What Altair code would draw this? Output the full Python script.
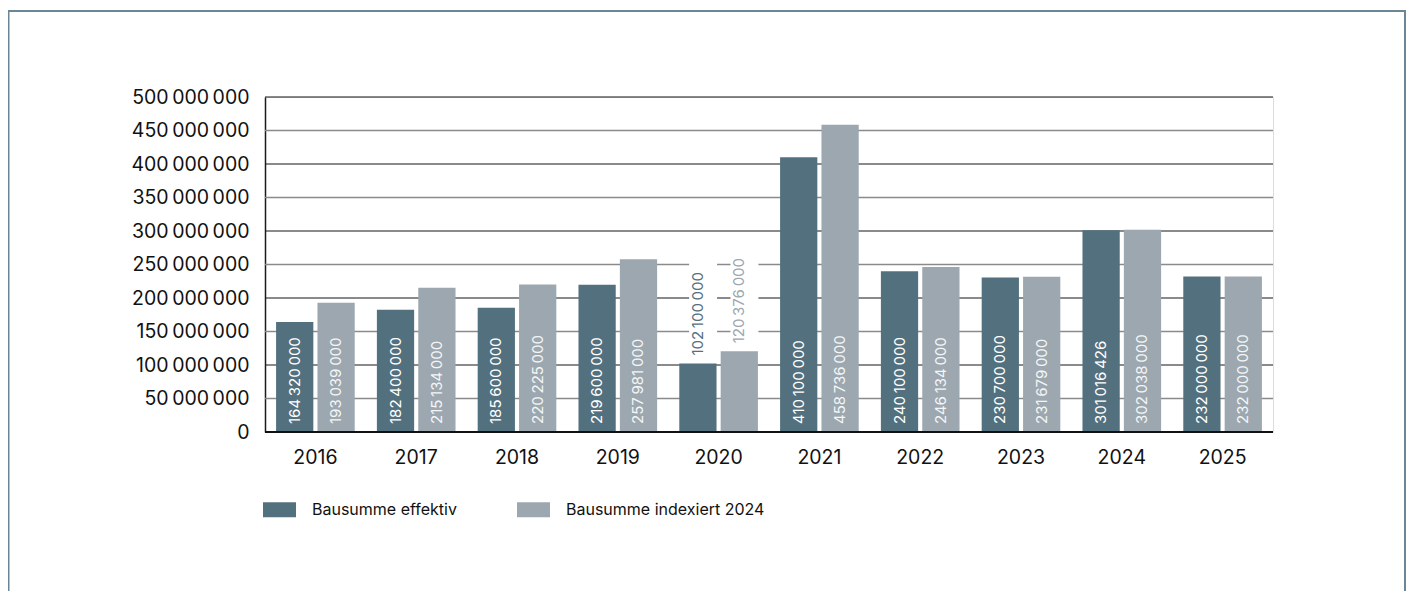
import altair as alt
import pandas as pd

years = ["2016", "2017", "2018", "2019", "2020", "2021", "2022", "2023", "2024", "2025"]
effektiv = [164320000, 182400000, 185600000, 219600000, 102100000,
            410100000, 240100000, 230700000, 301016426, 232000000]
indexiert = [193039000, 215134000, 220225000, 257981000, 120376000,
             458736000, 246134000, 231679000, 302038000, 232000000]
series = ["Bausumme effektiv", "Bausumme indexiert 2024"]
bar_colors = ["#53707e", "#9ca7af"]
inside_label_colors = ["#ffffff", "#f3f5f6"]
major_grid = [0, 100000000, 200000000, 300000000, 400000000, 500000000]
minor_grid = [50000000, 150000000, 250000000, 350000000, 450000000]
axis_values = sorted(major_grid + minor_grid)

THIN = "\u2009"
rows = []
for i, yr in enumerate(years):
    for s, vals in zip(series, [effektiv, indexiert]):
        v = vals[i]
        rows.append({
            "year": yr, "series": s, "value": v,
            "label": f"{v:,}".replace(",", THIN),
            "inside": "yes" if v >= 130000000 else "no",
        })
df = pd.DataFrame(rows)

FONT = "Inter"
yscale = alt.Scale(domain=[0, 500000000], nice=False)
xscale = alt.Scale(paddingInner=0.22, paddingOuter=0.11)
xoscale = alt.Scale(paddingInner=0.1)
yaxis = alt.Axis(title=None, values=axis_values, tickCount=11, grid=False, ticks=False,
                 domain=True, domainColor="#1a1a1a", domainWidth=1.5,
                 labelOverlap=False,
                 labelPadding=16, labelFontSize=19.5, labelFont=FONT,
                 labelColor="#111111",
                 labelExpr="replace(format(datum.value, ','), /,/g, '\u2009')")


def Y(field):
    return alt.Y(field, scale=yscale, axis=yaxis)


X = alt.X("year:N", scale=xscale,
          axis=alt.Axis(title=None, labelAngle=0, ticks=False, domain=False,
                        labelPadding=16, labelFontSize=19.5, labelFont=FONT,
                        labelColor="#111111"))
XO = alt.XOffset("series:N", scale=xoscale)

border = alt.Chart(pd.DataFrame({"a": [0]})).mark_rect(
    fill="white", fillOpacity=0, stroke="#6d8696", strokeWidth=2
).encode(x=alt.value(-256.5), x2=alt.value(1140), y=alt.value(-86), y2=alt.value(560))

major = alt.Chart(pd.DataFrame({"v": major_grid})).mark_rule(
    color="#161616", strokeWidth=1.2
).encode(y=Y("v:Q"))
minor = alt.Chart(pd.DataFrame({"v": minor_grid})).mark_rule(
    color="#8a8a8a", strokeWidth=1.3
).encode(y=Y("v:Q"))

base = alt.Chart(df)

white_boxes = base.transform_filter("datum.inside == 'no'").transform_calculate(
    top="datum.value + 155000000"
).mark_bar(color="white", width=alt.RelativeBandSize(0.75)).encode(
    x=X, xOffset=XO, y=Y("value:Q"), y2="top:Q"
)

bars = base.mark_bar().encode(
    x=X, xOffset=XO,
    y=Y("value:Q"),
    color=alt.Color("series:N", scale=alt.Scale(domain=series, range=bar_colors),
                    legend=alt.Legend(orient="none", legendX=-2, legendY=396,
                                      direction="horizontal", title=None,
                                      symbolType="M-1,-0.45H1V0.45H-1Z", symbolSize=1089,
                                      symbolStrokeWidth=0, symbolOpacity=1,
                                      labelFontSize=16, labelFont=FONT, labelColor="#111111",
                                      labelLimit=0,
                                      labelOffset=16, columnPadding=60)),
)


def label_layer(s, inside, color):
    flt = f"datum.series == '{s}' && datum.inside == '{inside}'"
    ych = Y("value:Q") if inside == "no" else Y("zero:Q")
    return base.transform_filter(flt).transform_calculate(zero="0").mark_text(
        angle=270, align="left", baseline="middle", dx=8, fontSize=15, font=FONT, color=color
    ).encode(x=X, xOffset=XO, y=ych, text="label:N")


labels = [
    label_layer(series[0], "yes", inside_label_colors[0]),
    label_layer(series[1], "yes", inside_label_colors[1]),
    label_layer(series[0], "no", bar_colors[0]),
    label_layer(series[1], "no", bar_colors[1]),
]

zero = alt.Chart(pd.DataFrame({"v": [0]})).mark_rule(color="#111111", strokeWidth=2.2).encode(
    y=Y("v:Q"))

chart = alt.layer(border, major, minor, white_boxes, bars, *labels, zero).properties(
    width=1008, height=335, autosize="none",
    padding={"left": 257, "top": 89, "right": 133, "bottom": 159},
).configure_view(strokeWidth=0).configure(font=FONT)

chart.save("out.html", embed_options={"renderer": "svg", "actions": False})
